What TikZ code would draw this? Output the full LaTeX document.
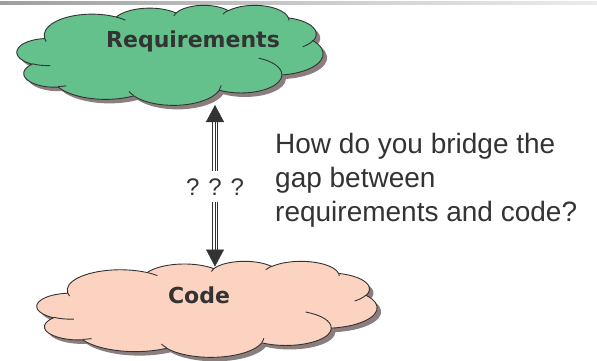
\documentclass[tikz,border=0pt]{standalone}
\usepackage{fontspec}
\usetikzlibrary{arrows.meta}
\newfontfamily\arialf{Liberation Sans}
\newfontfamily\headf{DejaVu Sans}
\definecolor{ink}{HTML}{333333}
\definecolor{reqgreen}{RGB}{100,193,140}
\definecolor{codepink}{RGB}{252,211,192}
\definecolor{shadowc}{RGB}{138,126,126}
\pgfdeclarehorizontalshading{topbar}{100bp}{color(0bp)=(black!72); color(12bp)=(black!68); color(22bp)=(black!40); color(55bp)=(black!18); color(80bp)=(black!5); color(100bp)=(white)}

% one arc of the cloud outline: x radius, y radius, start angle, sweep (visual angles)
\newcommand\carc[4]{arc[x radius=#1, y radius=#2, start angle={atan2(#1*sin(#3),#2*cos(#3))}, delta angle={mod(atan2(#1*sin(#3+#4),#2*cos(#3+#4))-atan2(#1*sin(#3),#2*cos(#3))+720,360)}]}

\newcommand\cloudoutline{(39.00,143.70)
 \carc{67.53}{91.90}{-190.48748}{123.78053}
 \carc{53.33}{72.67}{-144.10238}{89.94523}
 \carc{43.65}{59.45}{-145.80792}{99.72302}
 \carc{48.57}{65.95}{-130.98607}{117.24173}
 \carc{53.33}{72.73}{-78.70888}{109.02692}
 \carc{67.75}{92.20}{-46.26725}{130.269}
 \carc{57.85}{78.67}{0.62502}{114.03333}
 \carc{67.52}{92.15}{22.4516}{115.17255}
 \carc{77.20}{105.43}{66.24263}{75.71102}
 \carc{43.60}{59.18}{-274.94208}{146.73557}
 \carc{43.45}{59.45}{-246.8285}{152.51885}
 -- cycle}

\newcommand\cloudinner{
 (46.93,261.77) \carc{43.45}{59.45}{86.742}{26.4295}
 (69.28,348.99) \carc{43.60}{59.18}{73.61047}{11.44747}
 (164.78,390.90) \carc{67.52}{92.15}{137.62415}{14.0811}
 (288.27,347.51) \carc{67.52}{92.15}{6.45327}{15.99835}
 (341.29,229.54) \carc{57.85}{78.67}{-70.29235}{70.91737}
 (417.98,153.54) \carc{53.33}{72.73}{30.31803}{27.7515}
 (383.24,54.26) \carc{48.57}{65.95}{-13.74433}{14.8589}
 (290.78,39.52) \carc{48.57}{65.95}{-149.18145}{18.19537}
 (221.41,47.20) \carc{43.65}{59.45}{-163.49427}{17.68635}
 (140.00,51.92) \carc{67.53}{91.90}{-66.70695}{12.31935}
 (41.27,157.89) \carc{67.53}{91.90}{157.65435}{11.85817}}

% x, y (top left), width, height, fill colour
\newcommand\drawcloud[5]{%
 \pgfmathsetmacro\cloudxu{#3/432}%
 \pgfmathsetmacro\cloudyu{#4/432}%
 \begin{scope}[shift={(#1+4,#2+4)}, x=\cloudxu pt, y=-\cloudyu pt]
  \fill[shadowc] \cloudoutline;
 \end{scope}
 \begin{scope}[shift={(#1,#2)}, x=\cloudxu pt, y=-\cloudyu pt]
  \filldraw[fill=#5, cloudline] \cloudoutline;
  \draw[cloudline] \cloudinner;
 \end{scope}}

\begin{document}
\begin{tikzpicture}[x=1pt, y=-1pt,
  cloudline/.style={draw=ink, line width=0.9pt},
  cloudtext/.style={font=\headf\bfseries\fontsize{22}{26}\selectfont, text=ink, inner sep=0pt},
  shaftline/.style={draw=ink, line width=1pt},
  shaftouter/.style={draw=ink, line width=1pt, double=white, double distance=3.4pt},
  headtip/.style={draw=ink, fill=ink, line width=0.5pt, -{Triangle[width=18pt,length=17pt]}},
  qlabel/.style={font=\arialf\fontsize{24}{28}\selectfont, text=ink, inner sep=0pt, text height=25pt, text depth=6pt},
  bodytext/.style={font=\arialf\fontsize{28}{34.2}\selectfont, text=ink, inner sep=0pt, align=left}]
\useasboundingbox (0,0) rectangle (597,360);
\shade[shading=topbar] (0,1.5) rectangle (597,4);

\drawcloud{17}{5}{306}{100}{reqgreen}
\drawcloud{37}{261}{340}{96}{codepink}

\node[cloudtext, anchor=base] (req) at (193,47.3) {Requirements};
\node[cloudtext, anchor=base] (code) at (199,303.3) {Code};

\coordinate (reqbot) at (215,105);
\coordinate (codetop) at (215,266.5);
\node[qlabel, anchor=base] (q) at (215,195.7) {? ? ?};

\draw[shaftouter] ([yshift=-15pt]reqbot) -- (q.north);
\draw[shaftline] ([yshift=-15pt]reqbot) -- (q.north);
\draw[shaftouter] (q.south) -- ([yshift=15pt]codetop);
\draw[shaftline] (q.south) -- ([yshift=15pt]codetop);
\draw[headtip] ([yshift=-17pt]reqbot) -- (reqbot);
\draw[headtip] ([yshift=17pt]codetop) -- (codetop);

\node[bodytext, anchor=base west] (gap) at (275,221.7) {How do you bridge the\\gap between\\requirements and code?};
\end{tikzpicture}
\end{document}
